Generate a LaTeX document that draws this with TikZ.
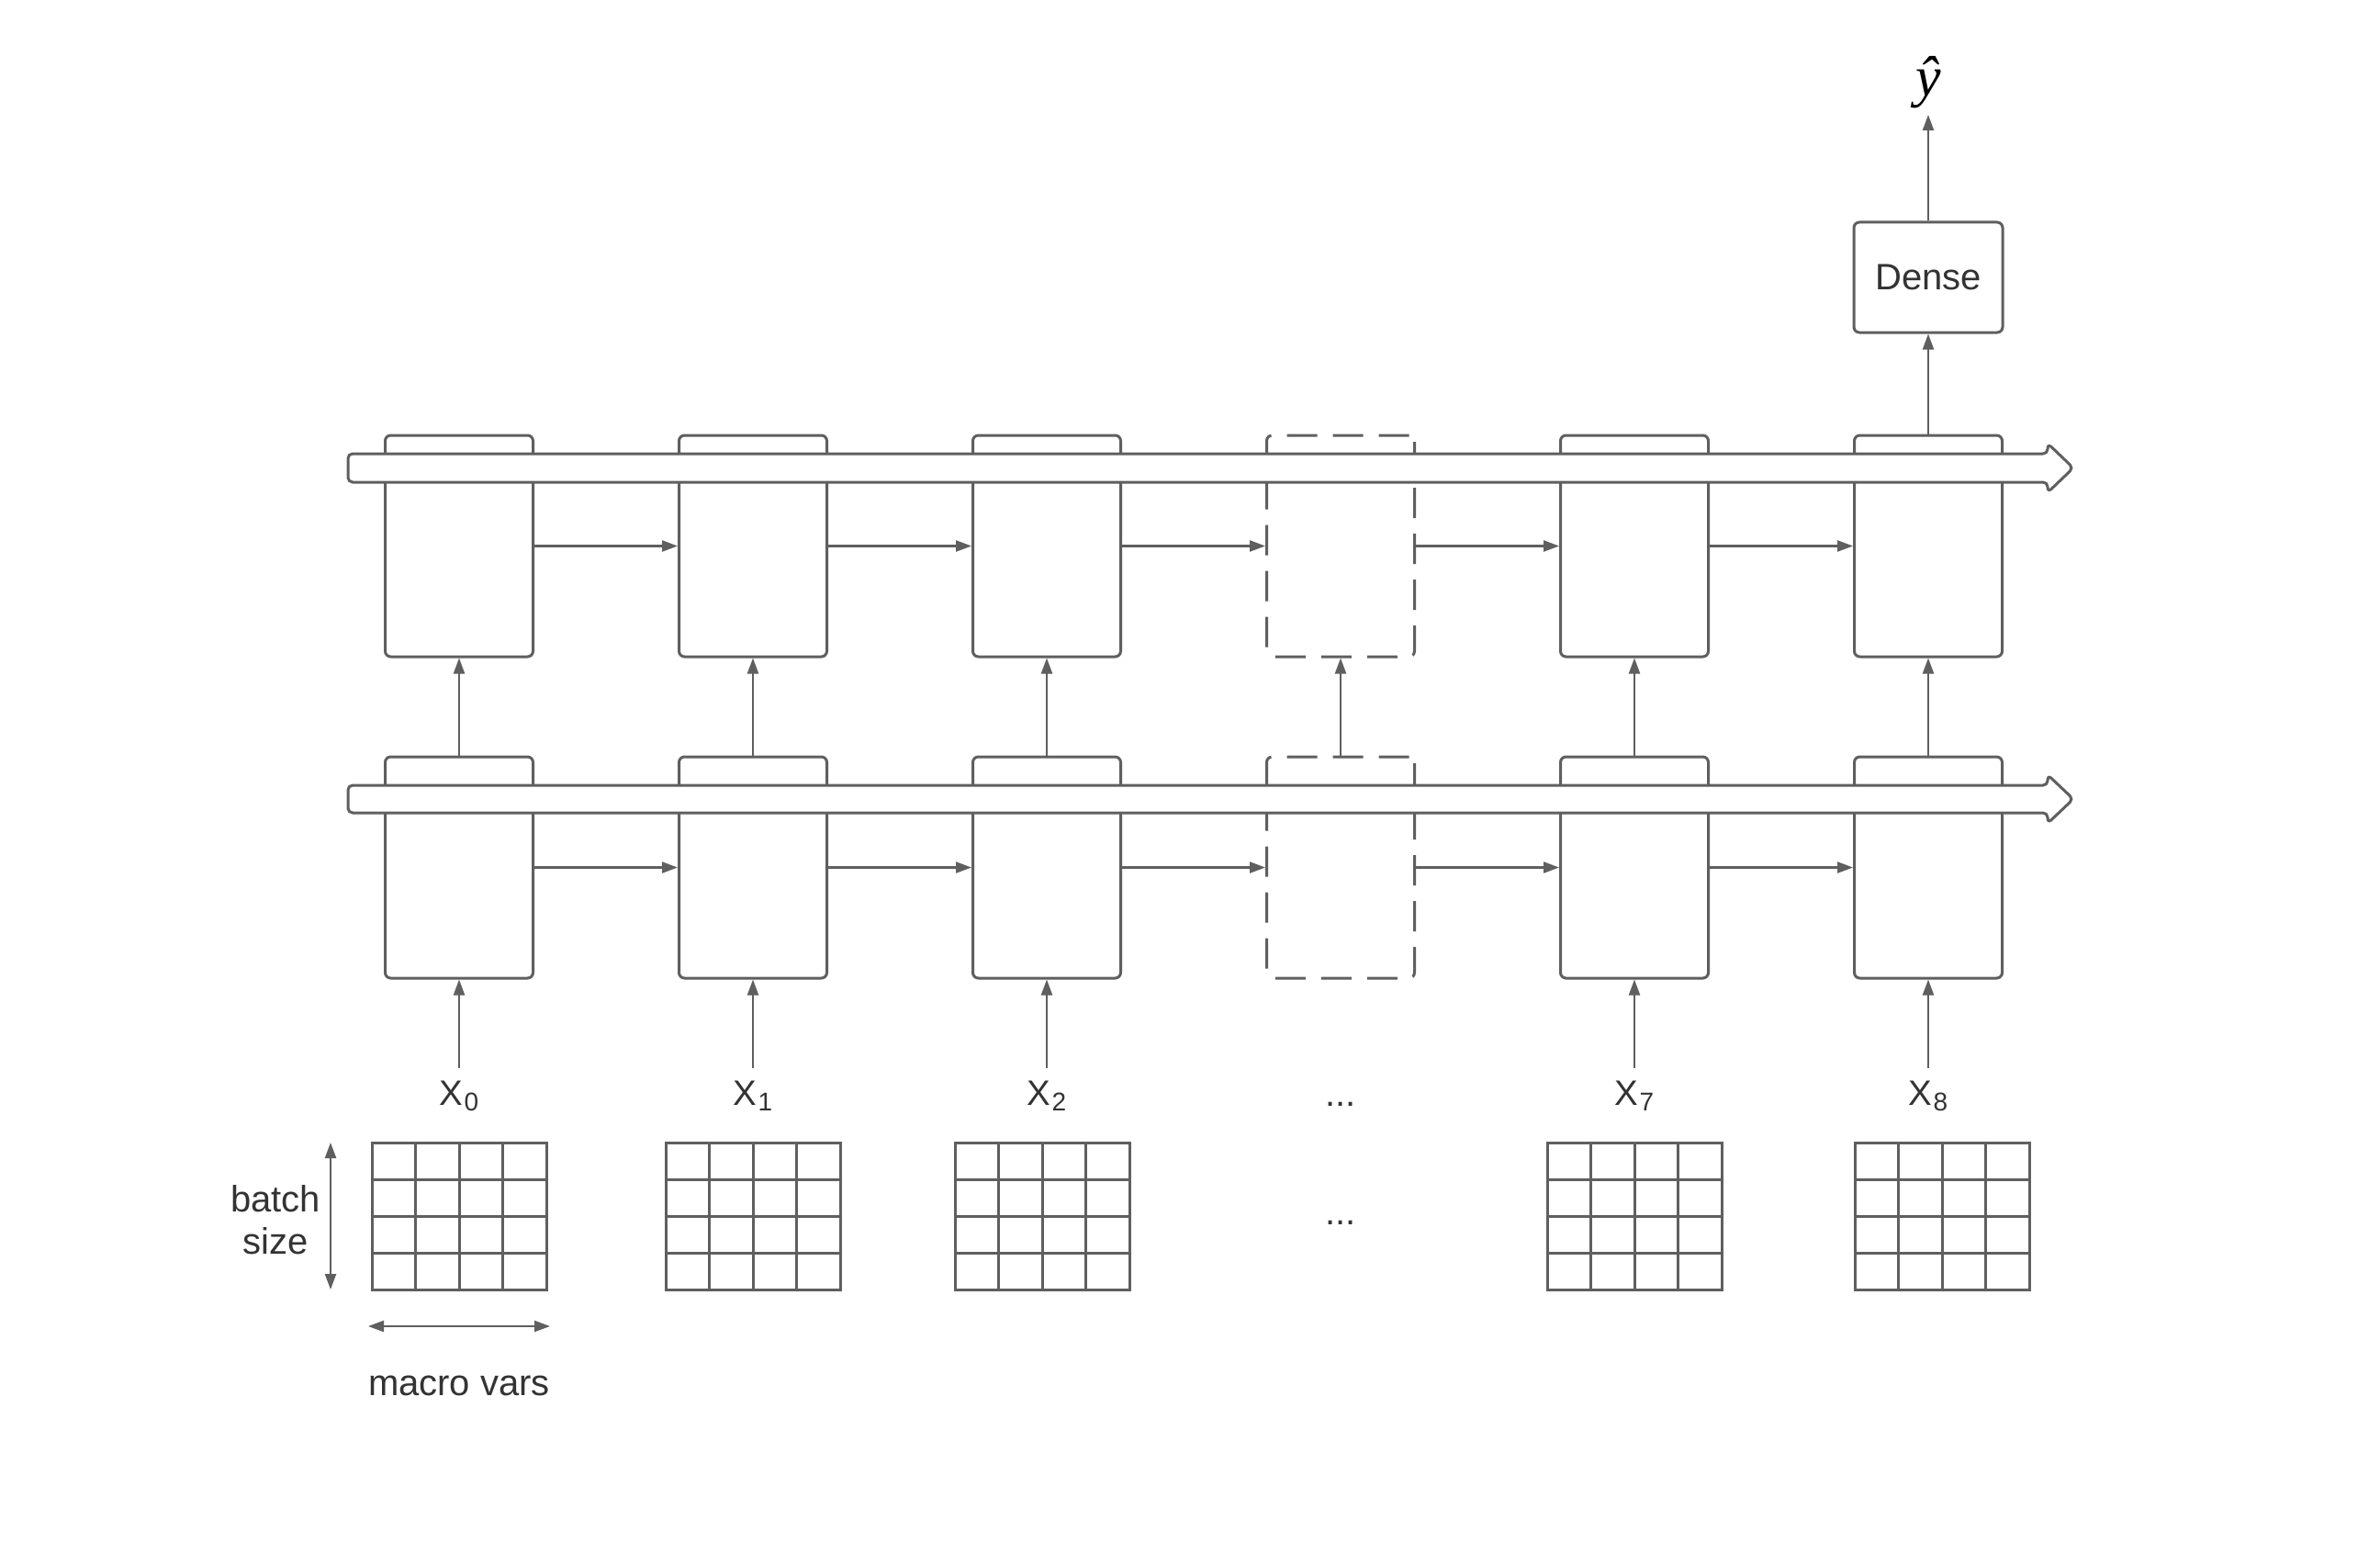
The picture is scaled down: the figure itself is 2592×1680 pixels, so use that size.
\documentclass[tikz,border=0pt]{standalone}
\usepackage{fontspec}
\setmainfont{Liberation Sans}
\newfontfamily\hatfont{Liberation Serif}
\usetikzlibrary{arrows.meta}
\definecolor{ln}{HTML}{5F5F5F}
\definecolor{tx}{HTML}{333333}

\begin{document}
\begin{tikzpicture}[x=1pt,y=-1pt,
  cellbox/.style={draw=ln, line width=3pt, rounded corners=6pt, fill=white,
    minimum width=161pt, minimum height=241pt, inner sep=0pt},
  ghostbox/.style={cellbox, dash pattern=on 33pt off 17pt},
  band/.style={draw=ln, line width=3pt, rounded corners=5pt, fill=white, line join=round},
  conn/.style={draw=ln, line width=2.2pt, -{Triangle[length=17pt,width=12pt]}},
  dconn/.style={draw=ln, line width=2.2pt, {Triangle[length=17pt,width=12pt]}-{Triangle[length=17pt,width=12pt]}},
  gridln/.style={draw=ln, line width=3pt},
  lab/.style={text=tx, font=\fontsize{40}{46}\selectfont, inner sep=0pt},
  xlab/.style={text=tx, font=\fontsize{38.5}{44}\selectfont, anchor=base,
    text height=27.6pt, text depth=0pt, inner xsep=0pt, inner ysep=13pt},
]
\useasboundingbox[fill=white] (0,0) rectangle (2592,1680);

\newcommand{\xsub}[1]{X\kern1pt\raisebox{-6pt}{\fontsize{28}{32}\selectfont #1}}

% recurrent cells, upper and lower layers
\foreach \n/\cx in {0/500,1/820,2/1140,4/1780,5/2100}{
  \node[cellbox] (up\n) at (\cx,594.5) {};
  \node[cellbox] (lo\n) at (\cx,944.5) {};
}
\node[ghostbox] (up3) at (1460,594.5) {};
\node[ghostbox] (lo3) at (1460,944.5) {};

% state bands running through each layer
\draw[band] (379,494) -- (2230,494) -- (2230,482.7) -- (2258,509.5)
  -- (2230,536.3) -- (2230,525) -- (379,525) -- cycle;
\draw[band] (379,855) -- (2230,855) -- (2230,843.5) -- (2258,870)
  -- (2230,896.5) -- (2230,885) -- (379,885) -- cycle;

% time steps within each layer
\foreach \a/\b in {0/1,1/2,2/3,3/4,4/5}{
  \draw[conn] (up\a.east) -- (up\b.west);
  \draw[conn] (lo\a.east) -- (lo\b.west);
}
% lower layer feeds upper layer
\foreach \n in {0,...,5}{
  \draw[conn] (lo\n.north) -- (up\n.south);
}

% dense head and prediction
\node[draw=ln, line width=3pt, rounded corners=6pt, minimum width=162pt,
  minimum height=120pt, inner sep=0pt, lab] (dense) at (2100,302) {Dense};
\node[text=black, font=\hatfont\itshape\fontsize{62}{68}\selectfont, anchor=south,
  inner sep=7pt] (yhat) at (2100,125) {ŷ};
\draw[conn] (up5.north) -- (dense.south);
\draw[conn] (dense.north) -- (yhat.south);

% inputs
\node[xlab] (x0) at (500,1203.5) {\xsub{0}};
\node[xlab] (x1) at (820,1203.5) {\xsub{1}};
\node[xlab] (x2) at (1140,1203.5) {\xsub{2}};
\node[xlab] (x4) at (1780,1203.5) {\xsub{7}};
\node[xlab] (x5) at (2100,1203.5) {\xsub{8}};
\node[lab, anchor=base] (xdots) at (1460,1204) {...};
\foreach \n in {0,1,2,4,5}{
  \draw[conn] (x\n.north) -- (lo\n.south);
}

% input matrices
\foreach \gx in {500,820,1135,1780,2115}{
  \draw[gridln] (\gx-95,1244) rectangle (\gx+95,1404);
  \foreach \i in {1,2,3}{
    \draw[gridln] (\gx-95+47.5*\i,1244) -- (\gx-95+47.5*\i,1404);
    \draw[gridln] (\gx-95,1244+40*\i) -- (\gx+95,1244+40*\i);
  }
}
\node[lab, anchor=base] (gdots) at (1460,1333) {...};

% dimension markers
\coordinate (bt) at (360,1244);
\coordinate (bb) at (360,1404);
\draw[dconn] (bt) -- (bb);
\node[lab, align=center] (bsize) at (300,1328) {batch\\size};
\coordinate (ml) at (401,1444);
\coordinate (mr) at (599,1444);
\draw[dconn] (ml) -- (mr);
\node[lab, anchor=base] (mvars) at (500,1519) {macro vars};
\end{tikzpicture}
\end{document}
